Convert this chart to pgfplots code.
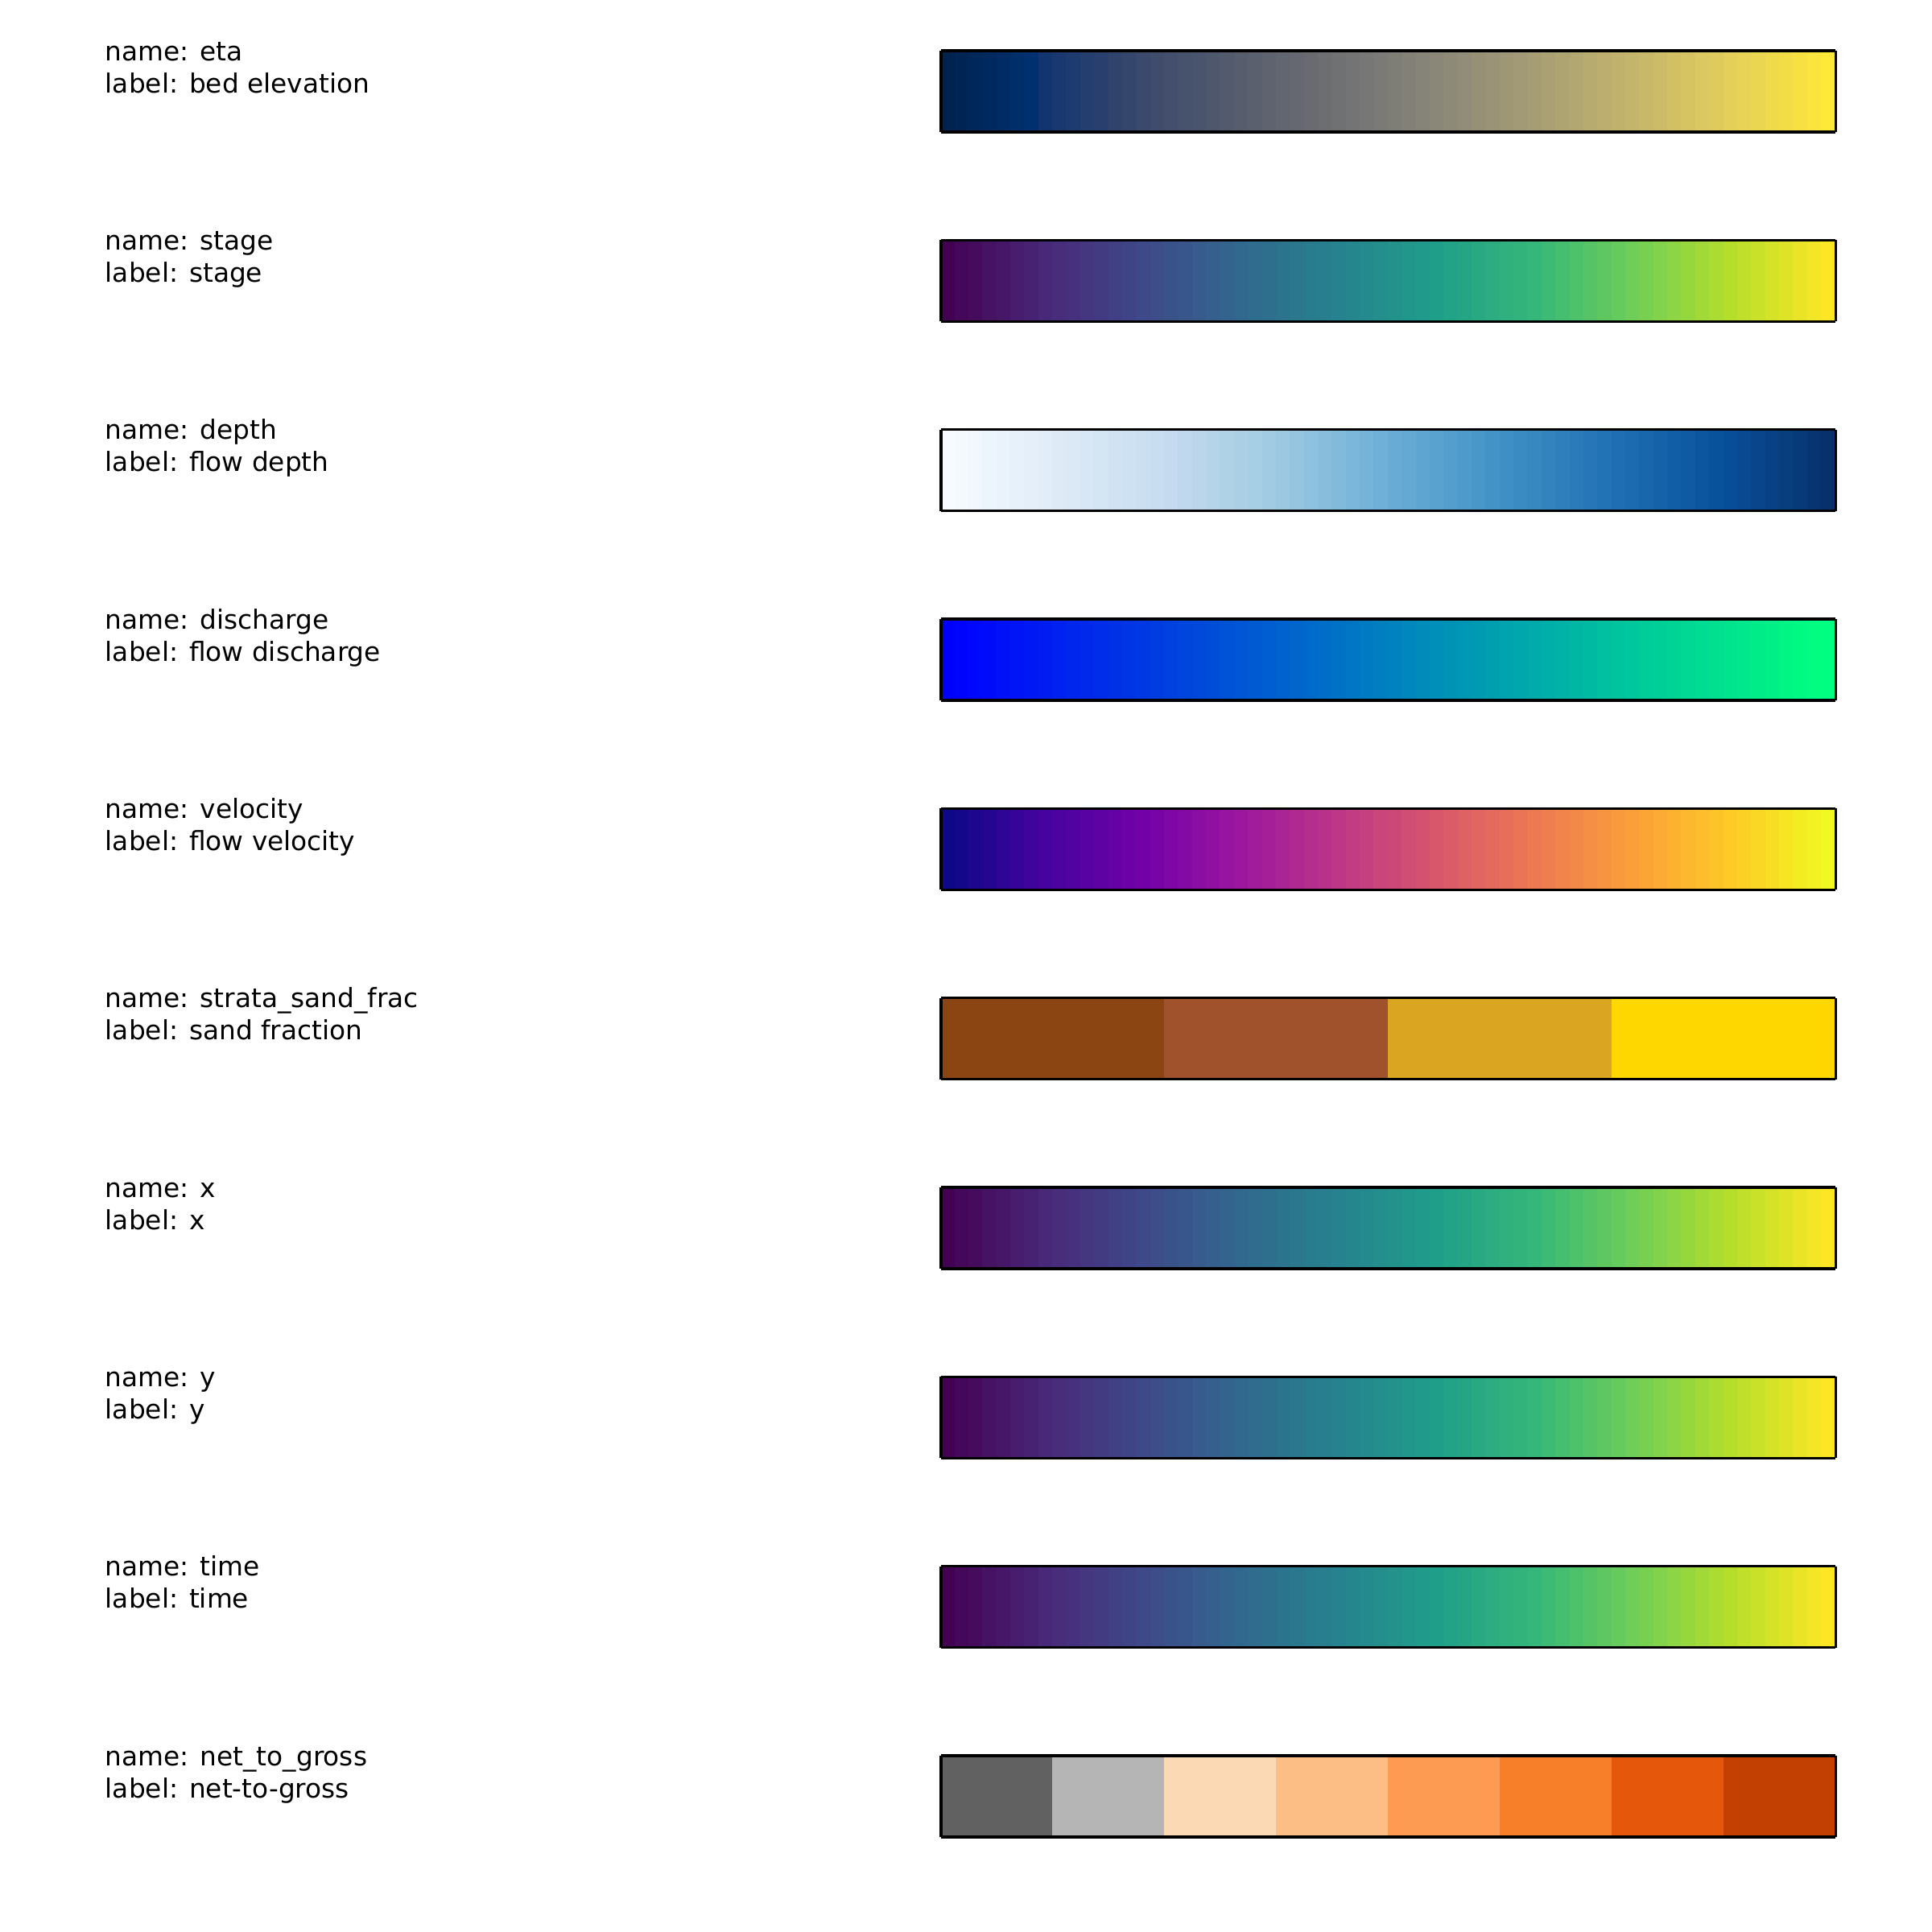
\documentclass[border=0pt]{standalone}
\usepackage{pgfplots}
\usepackage{pgfplotstable}
\pgfplotsset{compat=1.18}
\usepackage{fontspec}
\setmainfont{DejaVu Sans}

\pgfplotsset{
 colormap={cividis}{rgb255(0pt)=(0,34,78); rgb255(95pt)=(0,48,111); rgb255(111pt)=(18,53,112); rgb255(222pt)=(59,73,108); rgb255(333pt)=(87,93,109); rgb255(444pt)=(112,113,115); rgb255(556pt)=(138,135,121); rgb255(667pt)=(166,157,117); rgb255(778pt)=(196,181,108); rgb255(889pt)=(228,207,91); rgb255(1000pt)=(254,232,56)},
 colormap={vir}{rgb255=(68,1,84); rgb255=(72,40,120); rgb255=(62,73,137); rgb255=(49,104,142); rgb255=(38,130,142); rgb255=(31,158,137); rgb255=(53,183,121); rgb255=(110,206,88); rgb255=(181,222,43); rgb255=(253,231,37)},
 colormap={blues}{rgb255=(247,251,255); rgb255=(222,235,247); rgb255=(198,219,239); rgb255=(158,202,225); rgb255=(107,174,214); rgb255=(66,146,198); rgb255=(33,113,181); rgb255=(8,81,156); rgb255=(8,48,107)},
 colormap={winter}{rgb255=(0,0,255); rgb255=(0,255,128)},
 colormap={plasma}{rgb255=(13,8,135); rgb255=(70,3,159); rgb255=(114,1,168); rgb255=(156,23,158); rgb255=(189,55,134); rgb255=(216,87,107); rgb255=(237,121,83); rgb255=(251,159,58); rgb255=(253,202,38); rgb255=(240,249,33)},
 colormap={sand}{rgb255=(139,69,19); rgb255=(160,82,45); rgb255=(218,165,32); rgb255=(255,215,0)},
 colormap={ntg}{rgb255=(97,97,97); rgb255=(181,181,181); rgb255=(252,217,181); rgb255=(253,190,133); rgb255=(253,155,82); rgb255=(247,127,42); rgb255=(229,88,11); rgb255=(193,64,2)},
}

\pgfplotstableread{
x y z c
0 0 0 0
1 0 0 1
2 0 0 2
3 0 0 3
4 0 0 4
5 0 0 5
6 0 0 6
7 0 0 7
8 0 0 8
9 0 0 9
10 0 0 10
11 0 0 11
12 0 0 12
13 0 0 13
14 0 0 14
15 0 0 15
16 0 0 16
17 0 0 17
18 0 0 18
19 0 0 19
20 0 0 20
21 0 0 21
22 0 0 22
23 0 0 23
24 0 0 24
25 0 0 25
26 0 0 26
27 0 0 27
28 0 0 28
29 0 0 29
30 0 0 30
31 0 0 31
32 0 0 32
33 0 0 33
34 0 0 34
35 0 0 35
36 0 0 36
37 0 0 37
38 0 0 38
39 0 0 39
40 0 0 40
41 0 0 41
42 0 0 42
43 0 0 43
44 0 0 44
45 0 0 45
46 0 0 46
47 0 0 47
48 0 0 48
49 0 0 49
50 0 0 50
51 0 0 51
52 0 0 52
53 0 0 53
54 0 0 54
55 0 0 55
56 0 0 56
57 0 0 57
58 0 0 58
59 0 0 59
60 0 0 60
61 0 0 61
62 0 0 62
63 0 0 63
64 0 0 63
0 1 0 0
1 1 0 1
2 1 0 2
3 1 0 3
4 1 0 4
5 1 0 5
6 1 0 6
7 1 0 7
8 1 0 8
9 1 0 9
10 1 0 10
11 1 0 11
12 1 0 12
13 1 0 13
14 1 0 14
15 1 0 15
16 1 0 16
17 1 0 17
18 1 0 18
19 1 0 19
20 1 0 20
21 1 0 21
22 1 0 22
23 1 0 23
24 1 0 24
25 1 0 25
26 1 0 26
27 1 0 27
28 1 0 28
29 1 0 29
30 1 0 30
31 1 0 31
32 1 0 32
33 1 0 33
34 1 0 34
35 1 0 35
36 1 0 36
37 1 0 37
38 1 0 38
39 1 0 39
40 1 0 40
41 1 0 41
42 1 0 42
43 1 0 43
44 1 0 44
45 1 0 45
46 1 0 46
47 1 0 47
48 1 0 48
49 1 0 49
50 1 0 50
51 1 0 51
52 1 0 52
53 1 0 53
54 1 0 54
55 1 0 55
56 1 0 56
57 1 0 57
58 1 0 58
59 1 0 59
60 1 0 60
61 1 0 61
62 1 0 62
63 1 0 63
64 1 0 63
}\cont

\pgfplotstableread{
x y z c
0 0 0 0
1 0 0 1
2 0 0 2
3 0 0 3
4 0 0 3
0 1 0 0
1 1 0 1
2 1 0 2
3 1 0 3
4 1 0 3
}\sandtab

\pgfplotstableread{
x y z c
0 0 0 0
1 0 0 1
2 0 0 2
3 0 0 3
4 0 0 4
5 0 0 5
6 0 0 6
7 0 0 7
8 0 0 7
0 1 0 0
1 1 0 1
2 1 0 2
3 1 0 3
4 1 0 4
5 1 0 5
6 1 0 6
7 1 0 7
8 1 0 7
}\ntgtab

\pgfplotsset{
 cb/.style={scale only axis, width=266.7bp, height=24.24bp, anchor=north west,
  view={0}{90}, xmin=0, xmax=64, ymin=0, ymax=1, zmin=-1, zmax=1,
  xtick=\empty, ytick=\empty, ztick=\empty, axis on top,
  point meta min=0, point meta max=63,
  axis line style={line width=0.8pt, black}},
 cbplot/.style={surf, shader=flat corner, point meta=explicit},
}
\tikzset{txt/.style={anchor=base west, inner sep=0pt, font=\fontsize{7.9}{9.6}\selectfont}}

\begin{document}
\begin{tikzpicture}
\useasboundingbox (0,0) rectangle (576bp,-576bp);

% 1 eta
\begin{axis}[cb, at={(280.56bp,-15.12bp)}, colormap name=cividis]
\addplot3[cbplot, mesh/cols=65] table[x=x,y=y,z=z,meta=c]{\cont};
\end{axis}
\node[txt] at (31.2bp,-18.0bp) {name: eta};
\node[txt] at (31.2bp,-27.6bp) {label: bed elevation};

% 2 stage
\begin{axis}[cb, at={(280.56bp,-71.60bp)}, colormap name=vir]
\addplot3[cbplot, mesh/cols=65] table[x=x,y=y,z=z,meta=c]{\cont};
\end{axis}
\node[txt] at (31.2bp,-74.48bp) {name: stage};
\node[txt] at (31.2bp,-84.08bp) {label: stage};

% 3 depth
\begin{axis}[cb, at={(280.56bp,-128.08bp)}, colormap name=blues]
\addplot3[cbplot, mesh/cols=65] table[x=x,y=y,z=z,meta=c]{\cont};
\end{axis}
\node[txt] at (31.2bp,-130.96bp) {name: depth};
\node[txt] at (31.2bp,-140.56bp) {label: flow depth};

% 4 discharge
\begin{axis}[cb, at={(280.56bp,-184.56bp)}, colormap name=winter]
\addplot3[cbplot, mesh/cols=65] table[x=x,y=y,z=z,meta=c]{\cont};
\end{axis}
\node[txt] at (31.2bp,-187.44bp) {name: discharge};
\node[txt] at (31.2bp,-197.04bp) {label: flow discharge};

% 5 velocity
\begin{axis}[cb, at={(280.56bp,-241.04bp)}, colormap name=plasma]
\addplot3[cbplot, mesh/cols=65] table[x=x,y=y,z=z,meta=c]{\cont};
\end{axis}
\node[txt] at (31.2bp,-243.92bp) {name: velocity};
\node[txt] at (31.2bp,-253.52bp) {label: flow velocity};

% 6 sand fraction
\begin{axis}[cb, at={(280.56bp,-297.52bp)}, colormap name=sand, xmax=4, point meta max=3]
\addplot3[cbplot, mesh/cols=5] table[x=x,y=y,z=z,meta=c]{\sandtab};
\end{axis}
\node[txt] at (31.2bp,-300.40bp) {name: strata\_sand\_frac};
\node[txt] at (31.2bp,-310.00bp) {label: sand fraction};

% 7 x
\begin{axis}[cb, at={(280.56bp,-354.00bp)}, colormap name=vir]
\addplot3[cbplot, mesh/cols=65] table[x=x,y=y,z=z,meta=c]{\cont};
\end{axis}
\node[txt] at (31.2bp,-356.88bp) {name: x};
\node[txt] at (31.2bp,-366.48bp) {label: x};

% 8 y
\begin{axis}[cb, at={(280.56bp,-410.48bp)}, colormap name=vir]
\addplot3[cbplot, mesh/cols=65] table[x=x,y=y,z=z,meta=c]{\cont};
\end{axis}
\node[txt] at (31.2bp,-413.36bp) {name: y};
\node[txt] at (31.2bp,-422.96bp) {label: y};

% 9 time
\begin{axis}[cb, at={(280.56bp,-466.96bp)}, colormap name=vir]
\addplot3[cbplot, mesh/cols=65] table[x=x,y=y,z=z,meta=c]{\cont};
\end{axis}
\node[txt] at (31.2bp,-469.84bp) {name: time};
\node[txt] at (31.2bp,-479.44bp) {label: time};

% 10 net to gross
\begin{axis}[cb, at={(280.56bp,-523.44bp)}, colormap name=ntg, xmax=8, point meta max=7]
\addplot3[cbplot, mesh/cols=9] table[x=x,y=y,z=z,meta=c]{\ntgtab};
\end{axis}
\node[txt] at (31.2bp,-526.32bp) {name: net\_to\_gross};
\node[txt] at (31.2bp,-535.92bp) {label: net-to-gross};

\end{tikzpicture}
\end{document}
